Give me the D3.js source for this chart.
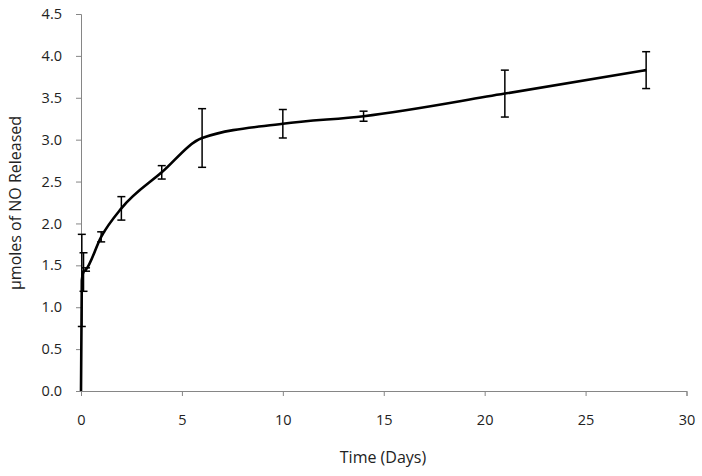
<!DOCTYPE html>
<html><head><meta charset="utf-8">
<script src="https://cdn.jsdelivr.net/npm/d3@7"></script>
<style>body{margin:0;background:#fff}svg{display:block}text{font-family:"Open Sans",Lato,sans-serif;fill:#222}</style>
</head><body><svg id="c" width="702" height="476"></svg>
<script>
const days   = [0, 0.04, 0.125, 0.25, 1, 2, 4, 6, 10, 14, 21, 28];
const means  = [0, 1.32, 1.42, 1.45, 1.84, 2.18, 2.61, 3.02, 3.19, 3.28, 3.55, 3.83];
const errs   = [0, 0.55, 0.23, 0.02, 0.06, 0.14, 0.08, 0.35, 0.17, 0.06, 0.28, 0.22];
const xTicks = [0, 5, 10, 15, 20, 25, 30];
const yTicks = [0, 0.5, 1, 1.5, 2, 2.5, 3, 3.5, 4, 4.5];

const svg = d3.select("#c");
const x = d3.scaleLinear().domain([0, 30]).range([81, 686.5]);
const y = d3.scaleLinear().domain([0, 4.5]).range([391, 14]);
const axisColor = "#868686";

const gx = svg.append("g").attr("transform", `translate(0,${y(0)})`)
  .call(d3.axisBottom(x).tickValues(xTicks).tickSize(5).tickPadding(19).tickFormat(d3.format("d")));
const gy = svg.append("g").attr("transform", `translate(${x(0)},0)`)
  .call(d3.axisLeft(y).tickValues(yTicks).tickSize(5).tickPadding(14).tickFormat(d3.format(".1f")));
[gx, gy].forEach(g => {
  g.select(".domain").attr("stroke", axisColor).attr("stroke-width", 1);
  g.selectAll(".tick line").attr("stroke", axisColor);
  g.selectAll(".tick text").style("font-size", "14.5px").attr("fill", "#222");
});

const pts = days.map((d, i) => ({d, m: means[i], e: errs[i]}));
const eb = svg.append("g").attr("stroke", "#000").attr("stroke-width", 1.5);
pts.filter(p => p.e > 0).forEach(p => {
  const cx = x(p.d), cw = 4;
  eb.append("line").attr("x1", cx).attr("x2", cx).attr("y1", y(p.m - p.e)).attr("y2", y(p.m + p.e));
  eb.append("line").attr("x1", cx - cw).attr("x2", cx + cw).attr("y1", y(p.m - p.e)).attr("y2", y(p.m - p.e));
  eb.append("line").attr("x1", cx - cw).attr("x2", cx + cw).attr("y1", y(p.m + p.e)).attr("y2", y(p.m + p.e));
});

svg.append("path").datum(pts)
  .attr("fill", "none").attr("stroke", "#000").attr("stroke-width", 2.6)
  .attr("d", d3.line().x(p => x(p.d)).y(p => y(p.m)).curve(d3.curveMonotoneX));

svg.append("text").attr("x", 383).attr("y", 463).attr("text-anchor", "middle")
  .style("font-size", "16px").text("Time (Days)");
svg.append("text").attr("transform", `translate(21,203) rotate(-90)`)
  .attr("text-anchor", "middle").style("font-size", "16px").text("µmoles of NO Released");
</script></body></html>
